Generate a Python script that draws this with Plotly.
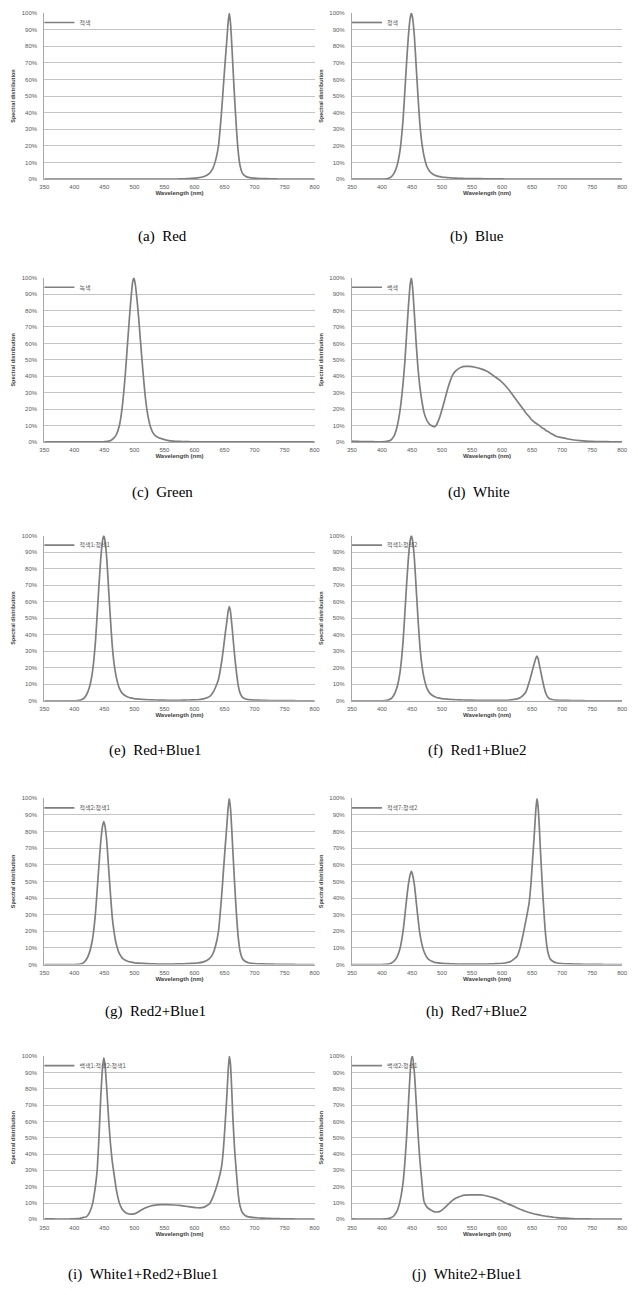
import plotly.graph_objects as go

# ---------------- data ----------------
wavelength = [350, 360, 370, 380, 390, 400,
              405, 410, 415, 420, 425, 430, 435,
              438, 441, 444, 447, 449, 451, 454, 457, 460, 463, 466,
              470, 475, 480, 485, 488, 491, 494, 497, 499, 501, 504, 507, 510,
              514, 518, 522, 527, 532, 538, 545,
              555, 565, 575, 585, 595, 605, 615, 625,
              630, 635, 640, 645, 648, 651, 654, 656, 658, 660, 662, 664, 667, 670, 673, 676, 680, 685, 690,
              700, 710, 720, 730, 740, 750, 760, 770, 780, 790, 800]

red = [0, 0, 0, 0, 0, 0,
       0, 0, 0, 0, 0, 0, 0,
       0, 0, 0, 0, 0, 0, 0, 0, 0, 0, 0,
       0, 0, 0, 0, 0, 0, 0, 0, 0, 0, 0, 0, 0,
       0, 0, 0, 0, 0, 0, 0,
       0, 0, 0.2, 0.3, 0.5, 0.8, 1.5, 3.5,
       6, 11, 20, 40, 55, 70, 84, 94, 100, 94, 82, 68, 48, 30, 16, 8, 3.5, 1.8, 1.1,
       0.6, 0.4, 0.3, 0.2, 0.1, 0.1, 0.1, 0, 0, 0, 0]

blue = [0, 0, 0, 0, 0, 0,
        0.1, 0.4, 1.2, 3.5, 8, 17, 35,
        52, 70, 86, 97, 100, 97, 86, 68, 50, 34, 23,
        14, 7.5, 4.5, 3, 2.4, 2, 1.7, 1.5, 1.3, 1.2, 1.1, 1, 0.9,
        0.8, 0.7, 0.6, 0.5, 0.5, 0.4, 0.4,
        0.3, 0.3, 0.2, 0.2, 0.2, 0.1, 0.1, 0.1,
        0.1, 0.1, 0.1, 0.1, 0.1, 0.1, 0.1, 0.1, 0.1, 0.1, 0.1, 0.1, 0.1, 0.1, 0.1, 0.1, 0.1, 0.1, 0.1,
        0.1, 0.1, 0.1, 0, 0, 0, 0, 0, 0, 0, 0]

green = [0, 0, 0, 0, 0, 0,
         0, 0, 0, 0, 0, 0, 0,
         0, 0, 0, 0, 0.1, 0.2, 0.3, 0.5, 0.8, 1.5, 2.5,
         4.5, 10, 22, 42, 57, 72, 86, 97, 100, 97, 88, 76, 62,
         44, 28, 17, 9, 5, 3, 2,
         1, 0.5, 0.3, 0.2, 0.1, 0.1, 0.1, 0.1,
         0.1, 0.1, 0.1, 0.1, 0.1, 0.1, 0.1, 0.1, 0.1, 0.1, 0.1, 0.1, 0.1, 0.1, 0.1, 0.1, 0.1, 0.1, 0.1,
         0.1, 0.1, 0, 0, 0, 0, 0, 0, 0, 0, 0]

white = [0.5, 0.3, 0.2, 0.2, 0.1, 0.1,
         0.2, 0.5, 1.2, 3.5, 9, 19, 35,
         48, 65, 82, 96, 100, 94, 78, 60, 45, 34, 26,
         18, 13, 10.5, 9.5, 9.3, 10.5, 13, 16, 18.5, 21, 25, 29, 33,
         37.5, 41, 43, 44.5, 45.5, 46, 46,
         45.5, 44.5, 43, 40.5, 38, 34.5, 30, 25,
         22.5, 20, 17.5, 15.5, 14, 13, 12, 11.5, 11, 10.5, 10, 9.5, 8.5, 8, 7, 6.5, 5.5, 4.5, 3.5,
         2.6, 1.8, 1.2, 0.8, 0.5, 0.3, 0.2, 0.2, 0.1, 0.1, 0]

red1_blue1 = [0, 0, 0, 0, 0, 0,
              0.1, 0.4, 1.2, 3.5, 8, 17, 35,
              52, 70, 86, 97, 100, 97, 86, 68, 50, 34, 23,
              14, 7.5, 4.5, 3, 2.4, 2, 1.7, 1.5, 1.3, 1.2, 1.1, 1, 0.9,
              0.8, 0.7, 0.6, 0.5, 0.5, 0.4, 0.4,
              0.3, 0.3, 0.3, 0.4, 0.5, 0.6, 1.1, 2.5,
              4.5, 8, 13, 23, 31, 40, 48, 54, 57, 54, 47, 39, 27, 17, 9, 4.6, 2, 1.1, 0.7,
              0.4, 0.3, 0.2, 0.1, 0.1, 0.1, 0.1, 0, 0, 0, 0]

red1_blue2 = [0, 0, 0, 0, 0, 0,
              0.1, 0.4, 1.2, 3.5, 8, 17, 35,
              52, 70, 86, 97, 100, 97, 86, 68, 50, 34, 23,
              14, 7.5, 4.5, 3, 2.4, 2, 1.7, 1.5, 1.3, 1.2, 1.1, 1, 0.9,
              0.8, 0.7, 0.6, 0.5, 0.5, 0.4, 0.4,
              0.3, 0.3, 0.2, 0.2, 0.3, 0.3, 0.5, 1.1,
              1.8, 3.2, 5.6, 11, 15, 19, 23, 25.5, 27, 25.5, 22, 18.5, 13, 8.2, 4.4, 2.3, 1, 0.6, 0.4,
              0.2, 0.2, 0.1, 0.1, 0, 0, 0, 0, 0, 0, 0]

red2_blue1 = [0, 0, 0, 0, 0, 0,
              0.1, 0.3, 1, 3, 7, 14.6, 30,
              44.7, 60, 74, 83.4, 86, 83.4, 74, 58.5, 43, 29, 20,
              12, 6.5, 3.9, 2.6, 2.1, 1.7, 1.5, 1.3, 1.1, 1, 0.9, 0.9, 0.8,
              0.7, 0.6, 0.5, 0.4, 0.4, 0.3, 0.3,
              0.3, 0.3, 0.4, 0.5, 0.7, 0.9, 1.6, 3.6,
              6, 11, 20, 40, 55, 70, 84, 94, 100, 94, 82, 68, 48, 30, 16, 8, 3.5, 1.8, 1.1,
              0.6, 0.4, 0.3, 0.2, 0.1, 0.1, 0.1, 0, 0, 0, 0]

red7_blue2 = [0, 0, 0, 0, 0, 0,
              0.1, 0.2, 0.7, 2, 4.5, 9.5, 19.6,
              29, 39, 48, 54, 56, 54, 48, 38, 28, 19, 13,
              7.8, 4.2, 2.5, 1.7, 1.3, 1.1, 1, 0.8, 0.7, 0.7, 0.6, 0.6, 0.5,
              0.4, 0.4, 0.3, 0.3, 0.3, 0.2, 0.2,
              0.2, 0.2, 0.3, 0.4, 0.6, 0.9, 2, 5,
              10, 18, 27, 37, 48, 64, 80, 92, 100, 95, 83, 68, 48, 30, 16, 8, 3.5, 1.8, 1.1,
              0.6, 0.4, 0.3, 0.2, 0.1, 0.1, 0.1, 0, 0, 0, 0]

white1_red2_blue1 = [0.3, 0.3, 0.2, 0.2, 0.2, 0.3,
                     0.4, 0.6, 1.2, 1.5, 4, 9, 20,
                     30, 50, 75, 93, 99, 95, 80, 62, 47, 36, 28,
                     18, 10, 6, 4.2, 3.6, 3.3, 3.2, 3.2, 3.3, 3.5, 4, 4.7, 5.4,
                     6.2, 7, 7.6, 8.2, 8.6, 8.9, 9,
                     9, 8.8, 8.5, 8, 7.5, 7.1, 7.3, 9.5,
                     13, 18, 24, 32, 42, 58, 76, 90, 100, 95, 80, 62, 42, 28, 15, 8, 4, 2.2, 1.5,
                     1, 0.8, 0.6, 0.5, 0.4, 0.3, 0.3, 0.2, 0.2, 0.1, 0.1]

white2_blue1 = [0.3, 0.2, 0.2, 0.1, 0.1, 0.2,
                0.3, 0.5, 1, 2.2, 5, 11, 22,
                34, 50, 70, 90, 98, 100, 90, 72, 53, 37, 25,
                11, 7.5, 6, 5, 4.6, 4.5, 4.6, 5, 5.5, 6, 7, 8, 9,
                10.5, 11.8, 12.8, 13.6, 14.3, 14.8, 15,
                15, 15, 14.3, 13.3, 12, 10.2, 8.7, 7,
                6.2, 5.5, 4.8, 4.2, 3.9, 3.6, 3.3, 3.1, 3, 2.8, 2.7, 2.5, 2.3, 2.1, 1.9, 1.8, 1.6, 1.3, 1.1,
                0.8, 0.6, 0.4, 0.3, 0.3, 0.2, 0.2, 0.1, 0.1, 0.1, 0.1]

series = [red, blue, green, white, red1_blue1, red1_blue2,
          red2_blue1, red7_blue2, white1_red2_blue1, white2_blue1]

legend_names = ["적색", "청색", "녹색", "백색", "적색1:청색1", "적색1:청색2",
                "적색2:청색1", "적색7:청색2", "백색1:적색2:청색1", "백색2:청색1"]

captions = ["(a)\u00a0\u00a0Red", "(b)\u00a0\u00a0Blue", "(c)\u00a0\u00a0Green", "(d)\u00a0\u00a0White",
            "(e)\u00a0\u00a0Red+Blue1", "(f)\u00a0\u00a0Red1+Blue2", "(g)\u00a0\u00a0Red2+Blue1",
            "(h)\u00a0\u00a0Red7+Blue2", "(i)\u00a0\u00a0White1+Red2+Blue1", "(j)\u00a0\u00a0White2+Blue1"]

x_ticks = [350, 400, 450, 500, 550, 600, 650, 700, 750, 800]
y_ticks = [0, 10, 20, 30, 40, 50, 60, 70, 80, 90, 100]
y_tick_labels = ["0%", "10%", "20%", "30%", "40%", "50%", "60%", "70%", "80%", "90%", "100%"]

# ---------------- layout geometry (pixels) ----------------
W, H = 638, 1295
row_top = [10, 276, 535, 799, 1058]
row_bot = [177, 441, 701, 966, 1222]
caption_y = [235, 492, 751, 1013, 1277]
col_px = [(40, 315), (353, 628)]
caption_cx = [160, 480, 160, 482, 153, 480, 153, 480, 140, 470]

TICK_FONT = dict(family="Liberation Sans", size=6, color="#595959")
TITLE_FONT = dict(family="Liberation Sans", size=6, color="#404040")
GRID = "#c4c4c4"
LINE = "#a6a6a6"

fig = go.Figure()
layout = dict(width=W, height=H, margin=dict(l=0, r=0, t=0, b=0),
              paper_bgcolor="white", plot_bgcolor="white", showlegend=True,
              annotations=[])

for i, ys in enumerate(series):
    r, c = divmod(i, 2)
    sfx = "" if i == 0 else str(i + 1)
    xa, ya = "xaxis" + sfx, "yaxis" + sfx
    lg = "legend" if i == 0 else "legend" + str(i + 1)
    x0, x1 = col_px[c]
    xd = [x0 / W, x1 / W]
    yd = [1 - row_bot[r] / H, 1 - row_top[r] / H]

    fig.add_trace(go.Scatter(
        x=wavelength, y=ys, mode="lines", name=legend_names[i],
        line=dict(color="#7f7f7f", width=1.7, shape="spline", smoothing=0.5),
        xaxis="x" + sfx, yaxis="y" + sfx, legend=lg, cliponaxis=False,
        hoverinfo="skip"))

    layout[xa] = dict(domain=xd, anchor="y" + sfx, range=[350, 800],
                      tickvals=x_ticks, ticks="", showgrid=False,
                      showline=True, linecolor=LINE, linewidth=1,
                      zeroline=False, tickfont=TICK_FONT, ticklabelstandoff=2,
                      title=dict(text="<b>Wavelength (nm)</b>", font=TITLE_FONT, standoff=1))
    layout[ya] = dict(domain=yd, anchor="x" + sfx, range=[0, 100],
                      tickvals=y_ticks, ticktext=y_tick_labels, ticks="",
                      showgrid=True, gridcolor=GRID, gridwidth=1,
                      showline=True, linecolor=LINE, linewidth=1,
                      zeroline=False, tickfont=TICK_FONT, ticklabelstandoff=5,
                      title=dict(text="<b>Spectral distribution</b>",
                                 font=dict(family="Liberation Sans", size=5.5, color="#404040"),
                                 standoff=5))
    layout[lg] = dict(x=(x0 - 5) / W, y=1 - (row_top[r] - 5) / H, xanchor="left", yanchor="top",
                      bgcolor="rgba(0,0,0,0)", borderwidth=0,
                      font=dict(family="Noto Sans CJK KR", size=6, color="#595959"),
                      itemwidth=30, tracegroupgap=0)
    layout["annotations"].append(dict(
        text=captions[i], xref="paper", yref="paper",
        x=caption_cx[i] / W, y=1 - caption_y[r] / H, xanchor="center", yanchor="middle",
        showarrow=False, font=dict(family="Liberation Serif", size=15, color="#000000")))

fig.update_layout(**layout)
fig.write_html("out.html", config={"displayModeBar": False},
               post_script="document.body.style.margin='0';document.body.style.overflow='hidden';")
